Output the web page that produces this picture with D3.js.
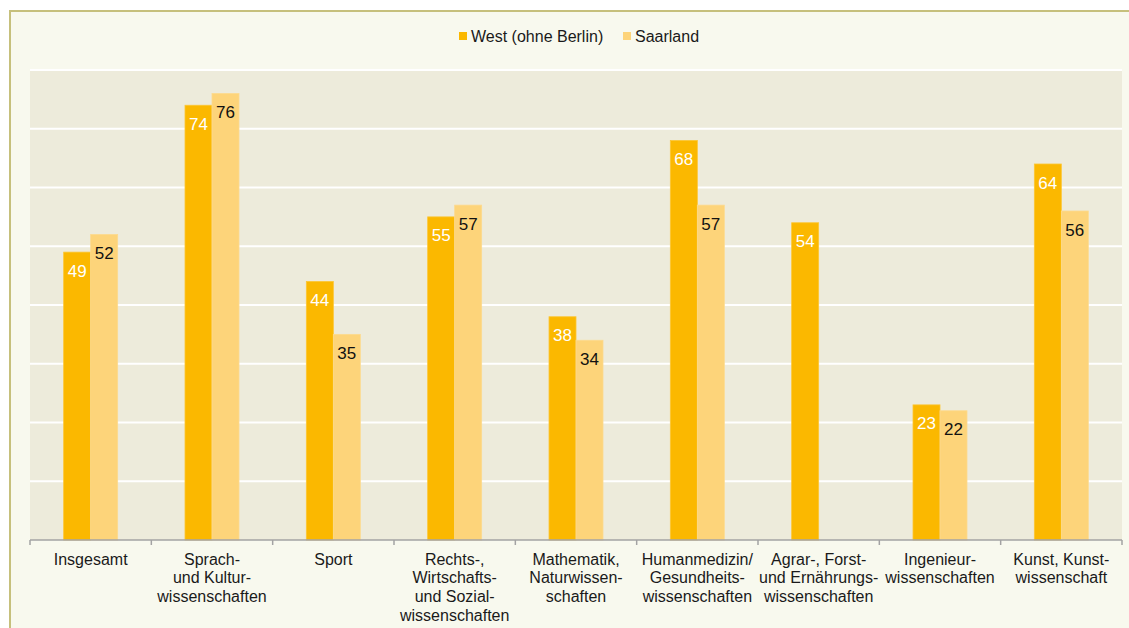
<!DOCTYPE html>
<html>
<head>
<meta charset="utf-8">
<script src="https://cdn.jsdelivr.net/npm/d3@7"></script>
<style>
  html, body { margin: 0; padding: 0; background: #ffffff; }
  svg { display: block; font-family: "Liberation Sans", Arial, sans-serif; }
</style>
</head>
<body>
<svg id="chart" width="1129" height="628"></svg>
<script>
// ---- data ----
const categories = ["Insgesamt", "Sprach- und Kulturwissenschaften", "Sport",
  "Rechts-, Wirtschafts- und Sozialwissenschaften", "Mathematik, Naturwissenschaften",
  "Humanmedizin/Gesundheitswissenschaften", "Agrar-, Forst- und Ernährungswissenschaften",
  "Ingenieurwissenschaften", "Kunst, Kunstwissenschaft"];
const categoryLines = [
  ["Insgesamt"],
  ["Sprach-", "und Kultur-", "wissenschaften"],
  ["Sport"],
  ["Rechts-,", "Wirtschafts-", "und Sozial-", "wissenschaften"],
  ["Mathematik,", "Naturwissen-", "schaften"],
  ["Humanmedizin/", "Gesundheits-", "wissenschaften"],
  ["Agrar-, Forst-", "und Ernährungs-", "wissenschaften"],
  ["Ingenieur-", "wissenschaften"],
  ["Kunst, Kunst-", "wissenschaft"]
];
const seriesNames = ["West (ohne Berlin)", "Saarland"];
const westValues = [49, 74, 44, 55, 38, 68, 54, 23, 64];
const saarlandValues = [52, 76, 35, 57, 34, 57, null, 22, 56];
const yTicks = [0, 10, 20, 30, 40, 50, 60, 70, 80];

// ---- styles ----
const colors = ["#FBB800", "#FDD47A"];
const labelColors = ["#ffffff", "#111111"];

const svg = d3.select("#chart");
const W = 1129, H = 628;

// outer panel
svg.append("rect").attr("x", 10).attr("y", 11).attr("width", W).attr("height", H)
  .attr("fill", "#F8F9EE").attr("stroke", "#C6C07C").attr("stroke-width", 2);

const plot = { left: 30, right: 1122, top: 70, bottom: 540 };

const x = d3.scaleBand().domain(categories).range([plot.left, plot.right]).paddingInner(0).paddingOuter(0);
const bw = x.bandwidth();
const groupW = bw * 0.445;
const xs = d3.scaleBand().domain(seriesNames).range([(bw - groupW) / 2, (bw + groupW) / 2]);
const y = d3.scaleLinear().domain([0, 80]).range([plot.bottom, plot.top]);

// plot background
svg.append("rect").attr("x", plot.left).attr("y", plot.top)
  .attr("width", plot.right - plot.left).attr("height", plot.bottom - plot.top)
  .attr("fill", "#EDEBDB");

// gridlines
svg.append("g").selectAll("line").data(yTicks.filter(t => t > 0)).join("line")
  .attr("x1", plot.left).attr("x2", plot.right)
  .attr("y1", d => y(d)).attr("y2", d => y(d))
  .attr("stroke", "#ffffff").attr("stroke-width", 2);

// data table
const rows = categories.map((c, i) => ({ cat: c, vals: [westValues[i], saarlandValues[i]] }));

const groups = svg.append("g").selectAll("g").data(rows).join("g")
  .attr("transform", d => `translate(${x(d.cat)},0)`);

const cells = groups.selectAll("g.cell")
  .data(d => d.vals.map((v, si) => ({ v, si, name: seriesNames[si] })).filter(e => e.v !== null))
  .join("g").attr("class", "cell");

cells.append("rect")
  .attr("x", d => xs(d.name))
  .attr("y", d => y(d.v))
  .attr("width", xs.bandwidth())
  .attr("height", d => y(0) - y(d.v))
  .attr("fill", d => colors[d.si])
  .attr("stroke", d => d.si === 0 ? "#FCC633" : "#FDDA8E")
  .attr("stroke-width", 0.8);

cells.append("text")
  .attr("x", d => xs(d.name) + xs.bandwidth() / 2)
  .attr("y", d => y(d.v) + 24.5)
  .attr("text-anchor", "middle")
  .attr("font-size", 17)
  .attr("fill", d => labelColors[d.si])
  .text(d => d.v);

// x axis
const axis = svg.append("g").attr("transform", `translate(0,${plot.bottom})`);
axis.append("line").attr("x1", plot.left).attr("x2", plot.right)
  .attr("y1", 0).attr("y2", 0).attr("stroke", "#A3A3A3").attr("stroke-width", 1.5);
const boundaries = categories.map(c => x(c)).concat([plot.right]);
axis.selectAll("line.tick").data(boundaries).join("line").attr("class", "tick")
  .attr("x1", d => d).attr("x2", d => d).attr("y1", 0).attr("y2", 5)
  .attr("stroke", "#A3A3A3").attr("stroke-width", 1.5);

axis.selectAll("text.cat").data(categories).join("text").attr("class", "cat")
  .attr("text-anchor", "middle")
  .attr("font-size", 16)
  .attr("fill", "#1a1a1a")
  .attr("transform", d => `translate(${x(d) + bw / 2},0)`)
  .each(function(d, i) {
    d3.select(this).selectAll("tspan").data(categoryLines[i]).join("tspan")
      .attr("x", 0).attr("y", (t, j) => 24.5 + j * 18.7).text(t => t);
  });

// legend
const legendX = [459, 623];
const legend = svg.append("g");
seriesNames.forEach((s, i) => {
  legend.append("rect").attr("x", legendX[i]).attr("y", 32).attr("width", 8).attr("height", 8)
    .attr("fill", colors[i]);
  legend.append("text").attr("x", legendX[i] + 12).attr("y", 41.5)
    .attr("font-size", 16).attr("fill", "#1a1a1a").text(s);
});
</script>
</body>
</html>
